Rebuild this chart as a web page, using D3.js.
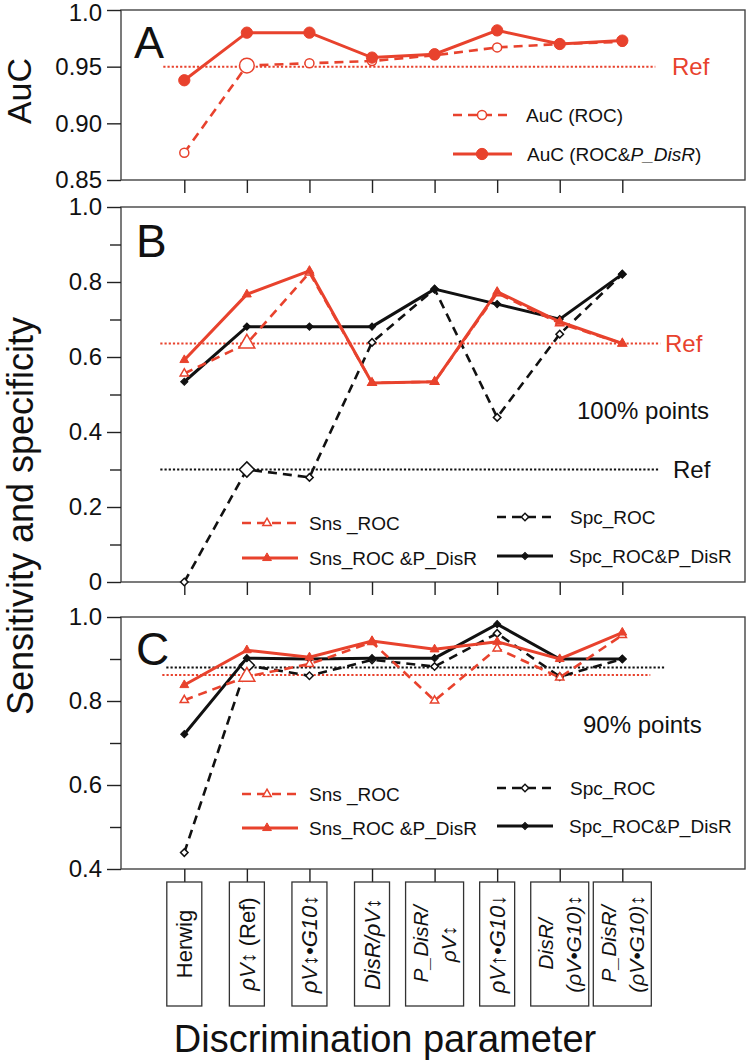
<!DOCTYPE html>
<html>
<head>
<meta charset="utf-8">
<script src="https://cdn.jsdelivr.net/npm/d3@7"></script>
<style>
  body { margin: 0; background: #fff; }
  text { font-family: "Liberation Sans", Arial, sans-serif; fill: #111; }
</style>
</head>
<body>
<svg id="chart" width="749" height="1063"></svg>
<script>
// ---- data ----
const categories = ["Herwig", "pV (Ref)", "pV.G10", "DisR/pV", "P_DisR/pV", "pVup.G10down", "DisR/(pV.G10)", "P_DisR/(pV.G10)"];
const refIndex = 1;

// box label text: lines of [text, italic] runs
const categoryLabels = [
  [[["Herwig", false]]],
  [[["ρV↕", true], [" (Ref)", false]]],
  [[["ρV↕•G10↕", true]]],
  [[["DisR/ρV↕", true]]],
  [[["P_DisR/", true]], [["ρV↕", true]]],
  [[["ρV↑•G10↓", true]]],
  [[["DisR/", true]], [["(ρV•G10)↕", true]]],
  [[["P_DisR/", true]], [["(ρV•G10)↕", true]]]
];

// panel A: AuC
const aucRoc     = [0.874, 0.951, 0.953, 0.955, 0.960, 0.967, 0.970, 0.972];
const aucRocDisR = [0.938, 0.980, 0.980, 0.958, 0.961, 0.982, 0.970, 0.973];
const aucRef = 0.95;
const aucTicks = [0.85, 0.90, 0.95, 1.0];

// panel B: 100% points
const sns100Roc     = [0.556, 0.636, 0.825, 0.531, 0.534, 0.770, 0.690, 0.636];
const sns100RocDisR = [0.592, 0.767, 0.830, 0.531, 0.534, 0.774, 0.694, 0.636];
const spc100Roc     = [0.000, 0.300, 0.279, 0.639, 0.781, 0.439, 0.661, 0.821];
const spc100RocDisR = [0.534, 0.681, 0.681, 0.681, 0.781, 0.741, 0.701, 0.821];
const sns100Ref = 0.636, spc100Ref = 0.30;
const bTicks = [0, 0.2, 0.4, 0.6, 0.8, 1.0];
const bMinor = [0.1, 0.3, 0.5, 0.7, 0.9];

// panel C: 90% points
const sns90Roc     = [0.802, 0.858, 0.888, 0.940, 0.801, 0.925, 0.856, 0.957];
const sns90RocDisR = [0.838, 0.921, 0.904, 0.943, 0.923, 0.941, 0.900, 0.963];
const spc90Roc     = [0.439, 0.885, 0.860, 0.898, 0.882, 0.961, 0.858, 0.900];
const spc90RocDisR = [0.721, 0.902, 0.900, 0.902, 0.902, 0.983, 0.900, 0.900];
const sns90Ref = 0.862, spc90Ref = 0.88;
const cTicks = [0.4, 0.6, 0.8, 1.0];
const cMinor = [0.5, 0.7, 0.9];

const legendSns = ["Sns _ROC", "Sns_ROC &P_DisR"];
const legendSpc = ["Spc_ROC", "Spc_ROC&P_DisR"];

// ---- layout ----
const RED = "#e8422d";
const BLACK = "#111";
const svg = d3.select("#chart");
const frameLeft = 121, frameRight = 745;

const x = d3.scalePoint().domain(categories).range([184.3, 622.3]);
const yA = d3.scaleLinear().domain([0.85, 1.0]).range([180, 10]);
const yB = d3.scaleLinear().domain([0, 1.0]).range([582, 207]);
const yC = d3.scaleLinear().domain([0.4, 1.0]).range([869, 617]);

function frame(y) {
  const [y0, y1] = y.range();
  svg.append("rect")
    .attr("x", frameLeft).attr("y", y1)
    .attr("width", frameRight - frameLeft).attr("height", y0 - y1)
    .attr("fill", "none").attr("stroke", "#444").attr("stroke-width", 1.4);
}

function yAxis(y, ticks, minor, fmt) {
  const g = svg.append("g").attr("transform", `translate(${frameLeft},0)`)
    .call(d3.axisLeft(y).tickValues(ticks).tickSize(14).tickPadding(5).tickFormat(fmt));
  g.select(".domain").remove();
  g.selectAll("line").attr("stroke", "#222").attr("stroke-width", 1.4);
  g.selectAll("text").attr("font-size", 24).attr("fill", "#111")
    .style("font-family", '"Liberation Sans", Arial, sans-serif');
  if (minor) {
    const m = svg.append("g").attr("transform", `translate(${frameLeft},0)`)
      .call(d3.axisLeft(y).tickValues(minor).tickSize(11).tickFormat(""));
    m.select(".domain").remove();
    m.selectAll("line").attr("stroke", "#222").attr("stroke-width", 1.4);
  }
  return g;
}

function xTicks(y) {
  const g = svg.append("g").attr("transform", `translate(0,${y.range()[0]})`)
    .call(d3.axisBottom(x).tickSize(13).tickFormat(""));
  g.select(".domain").remove();
  g.selectAll("line").attr("stroke", "#222").attr("stroke-width", 1.4);
}

function refLine(y, value, color, x0, x1) {
  svg.append("line")
    .attr("x1", x0).attr("x2", x1)
    .attr("y1", y(value)).attr("y2", y(value))
    .attr("stroke", color).attr("stroke-width", 2)
    .attr("stroke-dasharray", "2.2,2");
}

function refText(y, value, color, xPos) {
  svg.append("text").attr("x", xPos).attr("y", y(value)).attr("dy", "0.35em")
    .attr("font-size", 24).style("fill", color).text("Ref");
}

function markerPath(type, size) {
  return d3.symbol().type(type).size(size)();
}

function drawSeries(y, values, opt) {
  const line = d3.line().x((d, i) => x(categories[i])).y(d => y(d));
  svg.append("path").datum(values)
    .attr("d", line)
    .attr("fill", "none")
    .attr("stroke", opt.color)
    .attr("stroke-width", opt.dash ? 2.6 : 3)
    .attr("stroke-dasharray", opt.dash ? "9,6" : null);
  svg.selectAll(null).data(values).join("path")
    .attr("transform", (d, i) => `translate(${x(categories[i])},${y(d)}) rotate(${opt.rotate || 0})`)
    .attr("d", (d, i) => markerPath(opt.symbol, opt.bigRef && i === refIndex ? opt.bigSize : opt.size))
    .attr("fill", opt.open ? "#fff" : opt.color)
    .attr("stroke", opt.color)
    .attr("stroke-width", opt.open ? 1.5 : 1);
}

function legendItem(x0, x1, xm, yPos, opt, label, textX) {
  svg.append("line").attr("x1", x0).attr("x2", x1).attr("y1", yPos).attr("y2", yPos)
    .attr("stroke", opt.color).attr("stroke-width", opt.dash ? 2.6 : 3)
    .attr("stroke-dasharray", opt.dash ? "9,6" : null);
  svg.append("path")
    .attr("transform", `translate(${xm},${yPos}) rotate(${opt.rotate || 0})`)
    .attr("d", markerPath(opt.symbol, opt.size))
    .attr("fill", opt.open ? "#fff" : opt.color)
    .attr("stroke", opt.color).attr("stroke-width", opt.open ? 1.5 : 1);
  const t = svg.append("text").attr("x", textX).attr("y", yPos).attr("dy", "0.35em").attr("font-size", 19);
  label.forEach(([s, it]) => t.append("tspan").attr("font-style", it ? "italic" : "normal").text(s));
}

const snsRocStyle = { color: RED, dash: true, open: true, symbol: d3.symbolTriangle, size: 30, bigRef: true, bigSize: 110 };
const snsDisRStyle = { color: RED, dash: false, open: false, symbol: d3.symbolTriangle, size: 34 };
const spcRocStyle = { color: BLACK, dash: true, open: true, symbol: d3.symbolSquare, rotate: 45, size: 28, bigRef: true, bigSize: 115 };
const spcDisRStyle = { color: BLACK, dash: false, open: false, symbol: d3.symbolSquare, rotate: 45, size: 26 };

// ---- panel A ----
frame(yA);
const axA = yAxis(yA, aucTicks, null, d => d === 1 ? "1.0" : d.toFixed(2));
axA.selectAll("text").filter(d => d === 1).attr("dy", "0.45em");
xTicks(yA);
refLine(yA, aucRef, RED, x(categories[0]) - 21, x(categories[7]) + 33);
refText(yA, aucRef, RED, 672);
drawSeries(yA, aucRoc, { color: RED, dash: true, open: true, symbol: d3.symbolCircle, size: 64, bigRef: true, bigSize: 170 });
drawSeries(yA, aucRocDisR, { color: RED, dash: false, open: false, symbol: d3.symbolCircle, size: 100 });
legendItem(453, 512, 482, 115, { color: RED, dash: true, open: true, symbol: d3.symbolCircle, size: 64 }, [["AuC (ROC)", false]], 526);
legendItem(453, 512, 482, 154, { color: RED, dash: false, open: false, symbol: d3.symbolCircle, size: 100 },
  [["AuC (ROC&", false], ["P_DisR", true], [")", false]], 527);
svg.append("text").attr("x", 134).attr("y", 58).attr("font-size", 45).text("A");

// ---- panel B ----
frame(yB);
yAxis(yB, bTicks, bMinor, d => d === 0 ? "0" : d.toFixed(1));
xTicks(yB);
refLine(yB, sns100Ref, RED, x(categories[0]) - 24, x(categories[7]) + 38);
refLine(yB, spc100Ref, BLACK, x(categories[0]) - 24, x(categories[7]) + 36);
refText(yB, sns100Ref, RED, 665);
refText(yB, spc100Ref, BLACK, 673);
drawSeries(yB, spc100Roc, spcRocStyle);
drawSeries(yB, spc100RocDisR, spcDisRStyle);
drawSeries(yB, sns100Roc, snsRocStyle);
drawSeries(yB, sns100RocDisR, snsDisRStyle);
svg.append("text").attr("x", 577).attr("y", 419).attr("font-size", 24).text("100% points");
legendItem(242, 298, 267, 523, snsRocStyle, [[legendSns[0], false]], 309);
legendItem(242, 298, 267, 558, snsDisRStyle, [[legendSns[1], false]], 309);
legendItem(497, 553, 525, 517, spcRocStyle, [[legendSpc[0], false]], 570);
legendItem(497, 553, 525, 556, spcDisRStyle, [[legendSpc[1], false]], 569);
svg.append("text").attr("x", 136).attr("y", 257).attr("font-size", 46).text("B");

// ---- panel C ----
frame(yC);
yAxis(yC, cTicks, cMinor, d => d.toFixed(1));
xTicks(yC);
refLine(yC, spc90Ref, BLACK, x(categories[0]) - 18, x(categories[7]) + 43);
refLine(yC, sns90Ref, RED, x(categories[0]) - 22, x(categories[7]) + 28);
drawSeries(yC, spc90Roc, spcRocStyle);
drawSeries(yC, spc90RocDisR, spcDisRStyle);
drawSeries(yC, sns90Roc, snsRocStyle);
drawSeries(yC, sns90RocDisR, snsDisRStyle);
svg.append("text").attr("x", 583).attr("y", 733).attr("font-size", 24).text("90% points");
legendItem(242, 298, 267, 794, snsRocStyle, [[legendSns[0], false]], 309);
legendItem(242, 298, 267, 828, snsDisRStyle, [[legendSns[1], false]], 309);
legendItem(497, 553, 525, 788, spcRocStyle, [[legendSpc[0], false]], 570);
legendItem(497, 553, 525, 826, spcDisRStyle, [[legendSpc[1], false]], 569);
svg.append("text").attr("x", 136).attr("y", 665).attr("font-size", 46).text("C");

// ---- category boxes ----
const boxTop = yC.range()[0] + 13, boxBottom = 1006;
const boxCenter = (boxTop + boxBottom) / 2;
categoryLabels.forEach((lines, i) => {
  const cx = x(categories[i]);
  const w = lines.length === 1 ? 35 : 58;
  svg.append("rect").attr("x", cx - w / 2).attr("y", boxTop)
    .attr("width", w).attr("height", boxBottom - boxTop)
    .attr("fill", "#fff").attr("stroke", "#333").attr("stroke-width", 1.3);
  lines.forEach((runs, j) => {
    const off = lines.length === 1 ? 0 : (j === 0 ? -14 : 14);
    const t = svg.append("text")
      .attr("transform", `translate(${cx + off},${boxCenter}) rotate(-90)`)
      .attr("text-anchor", "middle").attr("dy", "0.35em")
      .attr("font-size", lines.length === 1 ? 22 : 21);
    runs.forEach(([s, it]) => t.append("tspan").attr("font-style", it ? "italic" : "normal").text(s));
  });
});

// ---- axis titles ----
svg.append("text").attr("transform", "translate(19,91) rotate(-90)")
  .attr("text-anchor", "middle").attr("dy", "0.35em").attr("font-size", 34).text("AuC");
svg.append("text").attr("transform", "translate(20,516) rotate(-90)")
  .attr("text-anchor", "middle").attr("dy", "0.35em").attr("font-size", 36).text("Sensitivity and specificity");
svg.append("text").attr("x", 385).attr("y", 1052).attr("text-anchor", "middle")
  .attr("font-size", 38).text("Discrimination parameter");
</script>
</body>
</html>
